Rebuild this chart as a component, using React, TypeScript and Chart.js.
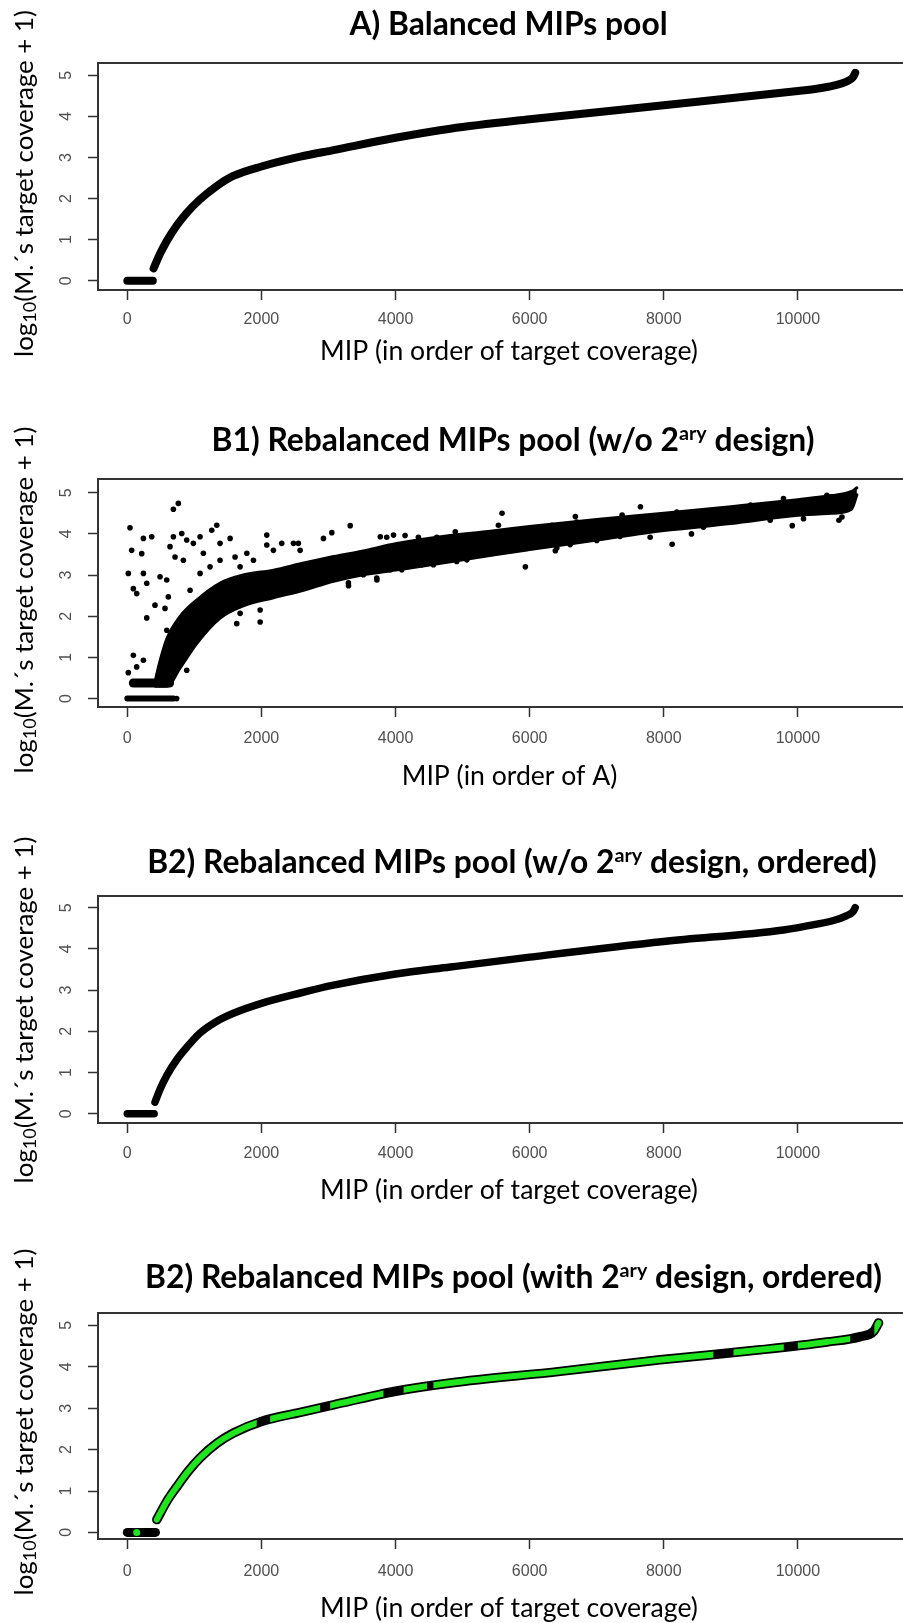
import React, { useEffect, useRef } from 'react';
import { Chart, registerables } from 'chart.js';

Chart.register(...registerables);

// ---------------- data ----------------
const X_TICKS = [0, 2000, 4000, 6000, 8000, 10000];
const Y_TICKS = [0, 1, 2, 3, 4, 5];

// A) Balanced MIPs pool (sorted curve)
const A_X = [0, 380, 392, 490, 590, 740, 890, 1085, 1330, 1580, 2000, 2580, 3075, 4000, 4816, 6000, 8000, 10000, 10300, 10530, 10730, 10820, 10855];
const A_Y = [0, 0, 0.30, 0.66, 0.97, 1.35, 1.66, 1.98, 2.30, 2.55, 2.78, 3.02, 3.18, 3.48, 3.70, 3.93, 4.27, 4.62, 4.68, 4.75, 4.85, 4.95, 5.06];

// B1) scattered pool: dense band envelope + rows + individual points
const B1_ROW0_X = [0, 690];
const B1_ROW0_Y = [0, 0];
const B1_ROW1_X = [90, 630];
const B1_ROW1_Y = [0.38, 0.38];
const B1_BAND_X = [420, 470, 590, 790, 1040, 1380, 1730, 2180, 2600, 3075, 3500, 4000, 4816, 5500, 6000, 7000, 8000, 9000, 10000, 10500, 10800, 10880];
const B1_BAND_UP = [0.45, 0.8, 1.45, 2.0, 2.4, 2.8, 3.0, 3.12, 3.28, 3.45, 3.58, 3.76, 3.96, 4.08, 4.18, 4.35, 4.5, 4.66, 4.83, 4.93, 5.03, 5.12];
const B1_BAND_LO = [0.3, 0.3, 0.3, 0.75, 1.35, 1.95, 2.25, 2.45, 2.62, 2.85, 3.0, 3.12, 3.32, 3.5, 3.62, 3.85, 4.08, 4.25, 4.45, 4.5, 4.6, 4.95];
const B1_PTS_X = [
  40, 65, 15, 90, 140, 15, 90, 240, 140, 240, 215, 240, 290, 364, 290, 413, 562, 488, 588, 612,
  588, 687, 761, 637, 687, 712, 812, 836, 886, 985, 1085, 1134, 936, 1085, 1234, 1259, 1334, 1383, 1533, 1383,
  1607, 1682, 1782, 1881, 2080, 2080, 2179, 2303, 2478, 2551, 2577, 2925, 3050, 3324, 3722, 3299, 1632, 1981, 1682, 1981,
  736, 886, 3772, 3970, 4891, 5588, 5936, 6383, 6682, 7379, 7652, 8125, 8413, 9294, 9916, 10612,
  3869, 4142, 4341, 4615, 5161, 5310, 5534, 5734, 6156, 6331, 6604, 6703, 6952, 7151, 7350, 7797, 8195, 9785, 10432,
  3297, 3521, 3720, 3919, 4093, 4391, 4565, 4913, 5063, 5510, 6405, 6604, 7350, 7001, 7797, 8592, 9587, 10084, 10657,
];
const B1_PTS_Y = [
  4.15, 3.6, 3.04, 2.67, 2.55, 0.63, 1.05, 0.93, 0.77, 3.89, 3.52, 3.04, 2.8, 3.93, 1.96, 2.27, 2.19, 2.96, 2.88, 2.47,
  1.66, 4.6, 4.74, 3.69, 3.93, 3.44, 4.01, 3.36, 3.85, 3.77, 3.93, 3.53, 2.63, 3.04, 3.2, 4.09, 4.21, 3.77, 3.89, 3.36,
  3.44, 3.2, 3.53, 3.36, 3.97, 3.73, 3.6, 3.77, 3.77, 3.77, 3.6, 3.89, 4.03, 4.2, 2.88, 2.74, 1.82, 1.86, 2.07, 2.15,
  0, 0.69, 3.93, 3.97, 4.05, 4.5, 3.2, 3.59, 4.42, 4.46, 4.66, 3.75, 4.0, 4.7, 4.2, 4.33,
  3.92, 3.96, 3.92, 3.92, 3.96, 4.0, 4.21, 4.08, 4.16, 4.21, 4.21, 4.29, 4.21, 4.21, 4.37, 4.41, 4.53, 4.86, 4.94,
  2.81, 3.01, 2.93, 3.13, 3.13, 3.25, 3.25, 3.33, 3.37, 3.58, 3.66, 3.74, 3.94, 3.84, 3.92, 4.16, 4.33, 4.37, 4.41,
];

// B2) ordered, without secondary design
const C_X = [0, 400, 413, 490, 590, 737, 890, 1085, 1330, 1582, 2000, 2580, 3075, 4000, 4816, 6000, 8000, 9784, 10282, 10531, 10730, 10820, 10855];
const C_Y = [0, 0, 0.28, 0.60, 0.93, 1.31, 1.62, 1.96, 2.24, 2.44, 2.68, 2.93, 3.12, 3.39, 3.56, 3.80, 4.18, 4.46, 4.60, 4.69, 4.81, 4.90, 5.00];

// B2) ordered, with secondary design (green = secondary-design MIPs)
const D_X = [0, 420, 440, 600, 737, 900, 1085, 1334, 1582, 2000, 2580, 3075, 4000, 4816, 6454, 7946, 9438, 10432, 10933, 11132, 11203];
const D_Y = [0, 0, 0.31, 0.78, 1.1, 1.46, 1.8, 2.15, 2.4, 2.68, 2.9, 3.08, 3.41, 3.61, 3.89, 4.17, 4.41, 4.6, 4.73, 4.86, 5.06];
const D_BLACK_RANGES = [[1930, 2130], [2875, 3025], [3820, 4120], [4470, 4565], [8740, 9040], [9790, 10000], [10780, 11140]];
const D_GREEN_DOT_X = [140];
const D_GREEN_DOT_Y = [0];

// ---------------- style / layout ----------------
const CANVAS_W = 932;
const X_MIN = -437;
const X_MAX = 12000;
const Y_AXIS_W = 98;
const X_AXIS_H = 40;
const AXIS_COLOR = '#333333';
const TICK_COLOR = '#505050';
const TICK_FAMILY = "'Liberation Sans', Arial, sans-serif";
const TICK_SIZE = 16;
const TEXT_FAMILY = "Lato, 'Open Sans', sans-serif";
const GREEN = '#1fe51f';
const Y_TICK_LABEL_X = 67;
const Y_TITLE_X = 33;

type Run = { t: string; k?: 'sup' | 'sub' };

const TITLE_A: Run[] = [{ t: 'A) Balanced MIPs pool' }];
const TITLE_B1: Run[] = [{ t: 'B1) Rebalanced MIPs pool (w/o 2' }, { t: 'ary', k: 'sup' }, { t: ' design)' }];
const TITLE_C: Run[] = [{ t: 'B2) Rebalanced MIPs pool (w/o 2' }, { t: 'ary', k: 'sup' }, { t: ' design, ordered)' }];
const TITLE_D: Run[] = [{ t: 'B2) Rebalanced MIPs pool (with 2' }, { t: 'ary', k: 'sup' }, { t: ' design, ordered)' }];
const X_TITLE_COV: Run[] = [{ t: 'MIP (in order of target coverage)' }];
const X_TITLE_A: Run[] = [{ t: 'MIP (in order of A)' }];
const Y_TITLE: Run[] = [{ t: 'log' }, { t: '10', k: 'sub' }, { t: '(M.\u00B4s target coverage + 1)' }];

const TITLE_REF_W = 737;
const XTITLE_REF_W = 378;
const YTITLE_REF_W = 347;

const pts = (xs: number[], ys: number[]) => xs.map((x, i) => ({ x, y: ys[i] }));
// zero-coverage MIPs (flat row) and the rising part, drawn as separate runs
const flatPart = (xs: number[], ys: number[]) => pts(xs, ys).filter((p) => p.y === 0);
const risePart = (xs: number[], ys: number[]) => pts(xs, ys).filter((p) => p.y > 0);

function runFont(k: any, size: number, weight: string) {
  const s = k === 'sup' ? size * 0.62 : k === 'sub' ? size * 0.7 : size;
  return `${weight} ${s}px ${TEXT_FAMILY}`;
}
function measureRuns(ctx: any, runs: Run[], size: number, weight: string) {
  let w = 0;
  for (const r of runs) {
    ctx.font = runFont(r.k, size, weight);
    w += ctx.measureText(r.t).width;
  }
  return w;
}
function drawRuns(ctx: any, runs: Run[], x0: number, y0: number, size: number, weight: string) {
  let x = x0;
  for (const r of runs) {
    ctx.font = runFont(r.k, size, weight);
    const dy = r.k === 'sup' ? -size * 0.34 : r.k === 'sub' ? size * 0.12 : 0;
    ctx.fillText(r.t, x, y0 + dy);
    x += ctx.measureText(r.t).width;
  }
}
function fitSize(ctx: any, runs: Run[], weight: string, target: number) {
  const base = 20;
  return (base * target) / measureRuns(ctx, runs, base, weight);
}

type PanelCfg = {
  key: string;
  top: number;
  height: number;
  plotTop: number;
  plotBottom: number;
  yMin: number;
  yMax: number;
  title: Run[];
  titleCX: number;
  titleBase: number;
  xTitle: Run[];
  xTitleCX: number;
  xTitleBase: number;
  yTitleC: number;
  tickOffset: number;
  datasets: any[];
  blackRanges?: number[][];
};

const lineDs = (data: any[], color: string, width: number, extra: any = {}) => ({
  data,
  showLine: true,
  borderColor: color,
  backgroundColor: color,
  borderWidth: width,
  pointRadius: 0,
  pointHoverRadius: 0,
  borderCapStyle: 'round',
  borderJoinStyle: 'round',
  cubicInterpolationMode: 'monotone',
  fill: false,
  ...extra,
});

const PANELS: PanelCfg[] = [
  {
    key: 'A', top: 0, height: 380, plotTop: 63, plotBottom: 290, yMin: -0.226, yMax: 5.3,
    title: TITLE_A, titleCX: 508.5, titleBase: 35,
    xTitle: X_TITLE_COV, xTitleCX: 509, xTitleBase: 359.5, yTitleC: 183.5, tickOffset: 29.7,
    datasets: [lineDs(risePart(A_X, A_Y), '#000', 8), lineDs(flatPart(A_X, A_Y), '#000', 8)],
  },
  {
    key: 'B1', top: 380, height: 420, plotTop: 479, plotBottom: 707, yMin: -0.204, yMax: 5.333,
    title: TITLE_B1, titleCX: 513, titleBase: 450.7,
    xTitle: X_TITLE_A, xTitleCX: 509.5, xTitleBase: 785, yTitleC: 600, tickOffset: 31.6,
    datasets: [
      lineDs(pts(B1_BAND_X, B1_BAND_UP), '#000', 3),
      lineDs(pts(B1_BAND_X, B1_BAND_LO), '#000', 3, { fill: '-1' }),
      lineDs(pts(B1_ROW0_X, B1_ROW0_Y), '#000', 6),
      lineDs(pts(B1_ROW1_X, B1_ROW1_Y), '#000', 9),
      {
        data: pts(B1_PTS_X, B1_PTS_Y), showLine: false, pointRadius: 2.8, pointHoverRadius: 0,
        pointBackgroundColor: '#000', pointBorderWidth: 0, backgroundColor: '#000', borderColor: '#000', fill: false,
      },
    ],
  },
  {
    key: 'C', top: 800, height: 410, plotTop: 896, plotBottom: 1123, yMin: -0.225, yMax: 5.284,
    title: TITLE_C, titleCX: 512, titleBase: 872.7,
    xTitle: X_TITLE_COV, xTitleCX: 509, xTitleBase: 1198.5, yTitleC: 1010, tickOffset: 30.8,
    datasets: [lineDs(risePart(C_X, C_Y), '#000', 7.5), lineDs(flatPart(C_X, C_Y), '#000', 7.5)],
  },
  {
    key: 'D', top: 1210, height: 413, plotTop: 1313, plotBottom: 1539, yMin: -0.159, yMax: 5.3,
    title: TITLE_D, titleCX: 513.5, titleBase: 1288.3,
    xTitle: X_TITLE_COV, xTitleCX: 509, xTitleBase: 1616.7, yTitleC: 1422, tickOffset: 32.4,
    blackRanges: D_BLACK_RANGES,
    datasets: [
      lineDs(risePart(D_X, D_Y), GREEN, 6, { order: 0 }),
      {
        data: pts(D_GREEN_DOT_X, D_GREEN_DOT_Y), showLine: false, pointRadius: 3.5, pointHoverRadius: 0,
        pointBackgroundColor: GREEN, pointBorderWidth: 0, backgroundColor: GREEN, borderColor: GREEN, fill: false, order: 0,
      },
      lineDs(risePart(D_X, D_Y), '#000', 9.5, { order: 1 }),
      lineDs(flatPart(D_X, D_Y), '#000', 9, { order: 1 }),
    ],
  },
];

function makeDecor(p: PanelCfg) {
  return {
    id: 'decor',
    beforeDatasetDraw(chart: any, args: any) {
      if (!p.blackRanges || args.index !== 0) return;
      const { ctx, chartArea: ca } = chart;
      const xs = chart.scales.x;
      ctx.save();
      ctx.beginPath();
      let start = ca.left - 20;
      for (const [a, b] of p.blackRanges) {
        const pa = xs.getPixelForValue(a);
        const pb = xs.getPixelForValue(b);
        ctx.rect(start, 0, pa - start, chart.height);
        start = pb;
      }
      ctx.rect(start, 0, ca.right + 20 - start, chart.height);
      ctx.clip();
    },
    afterDatasetDraw(chart: any, args: any) {
      if (!p.blackRanges || args.index !== 0) return;
      chart.ctx.restore();
    },
    afterDraw(chart: any) {
      const { ctx, chartArea: ca } = chart;
      const ys = chart.scales.y;
      const off = p.top;
      ctx.save();
      // top / right box edges
      ctx.strokeStyle = AXIS_COLOR;
      ctx.lineWidth = 2;
      ctx.beginPath();
      ctx.moveTo(ca.left - 1, ca.top);
      ctx.lineTo(ca.right, ca.top);
      ctx.lineTo(ca.right, ca.bottom);
      ctx.stroke();

      // y tick labels (rotated like R's default)
      ctx.fillStyle = TICK_COLOR;
      ctx.font = `${TICK_SIZE}px ${TICK_FAMILY}`;
      ctx.textAlign = 'center';
      ctx.textBaseline = 'middle';
      for (const v of Y_TICKS) {
        const py = ys.getPixelForValue(v);
        ctx.save();
        ctx.translate(Y_TICK_LABEL_X, py);
        ctx.rotate(-Math.PI / 2);
        ctx.fillText(String(v), 0, 0);
        ctx.restore();
      }

      ctx.fillStyle = '#000';
      ctx.textAlign = 'left';
      ctx.textBaseline = 'alphabetic';
      // main title
      const tSize = fitSize(ctx, TITLE_D, 'bold', TITLE_REF_W);
      const tw = measureRuns(ctx, p.title, tSize, 'bold');
      drawRuns(ctx, p.title, p.titleCX - tw / 2, p.titleBase - off, tSize, 'bold');
      // x title
      const xSize = fitSize(ctx, X_TITLE_COV, 'normal', XTITLE_REF_W);
      const xw = measureRuns(ctx, p.xTitle, xSize, 'normal');
      drawRuns(ctx, p.xTitle, p.xTitleCX - xw / 2, p.xTitleBase - off, xSize, 'normal');
      // y title
      const ySize = fitSize(ctx, Y_TITLE, 'normal', YTITLE_REF_W);
      const yw = measureRuns(ctx, Y_TITLE, ySize, 'normal');
      ctx.save();
      ctx.translate(Y_TITLE_X, p.yTitleC - off);
      ctx.rotate(-Math.PI / 2);
      drawRuns(ctx, Y_TITLE, -yw / 2, 0, ySize, 'normal');
      ctx.restore();
      ctx.restore();
    },
  };
}

function buildConfig(p: PanelCfg): any {
  const plotTop = p.plotTop - p.top;
  const plotBottom = p.plotBottom - p.top;
  const lineH = TICK_SIZE * 1.2;
  return {
    type: 'line',
    data: { datasets: p.datasets },
    options: {
      responsive: false,
      animation: false,
      devicePixelRatio: 1,
      events: [],
      layout: {
        autoPadding: false,
        padding: { left: 0, right: 0, top: plotTop, bottom: p.height - plotBottom - X_AXIS_H },
      },
      plugins: {
        legend: { display: false },
        tooltip: { enabled: false },
        title: { display: false },
      },
      scales: {
        x: {
          type: 'linear',
          position: 'bottom',
          min: X_MIN,
          max: X_MAX,
          afterBuildTicks: (s: any) => {
            s.ticks = X_TICKS.map((v) => ({ value: v }));
          },
          afterFit: (s: any) => {
            s.height = X_AXIS_H;
          },
          grid: { drawOnChartArea: false, drawTicks: true, tickLength: 10, tickColor: AXIS_COLOR, tickWidth: 1.5 },
          border: { display: true, color: AXIS_COLOR, width: 2 },
          ticks: {
            color: TICK_COLOR,
            font: { family: TICK_FAMILY, size: TICK_SIZE },
            padding: p.tickOffset - 10 - lineH / 2,
            maxRotation: 0,
            minRotation: 0,
            autoSkip: false,
            callback: (v: any) => String(v),
          },
        },
        y: {
          type: 'linear',
          position: 'left',
          min: p.yMin,
          max: p.yMax,
          afterBuildTicks: (s: any) => {
            s.ticks = Y_TICKS.map((v) => ({ value: v }));
          },
          afterFit: (s: any) => {
            s.width = Y_AXIS_W;
          },
          grid: { drawOnChartArea: false, drawTicks: true, tickLength: 10, tickColor: AXIS_COLOR, tickWidth: 1.5 },
          border: { display: true, color: AXIS_COLOR, width: 2 },
          ticks: { display: false },
        },
      },
    },
    plugins: [makeDecor(p)],
  };
}

function ChartPanel({ p }: { p: PanelCfg }) {
  const ref = useRef<HTMLCanvasElement | null>(null);
  useEffect(() => {
    if (!ref.current) return;
    const chart = new Chart(ref.current, buildConfig(p));
    return () => chart.destroy();
  }, [p]);
  return (
    <canvas
      ref={ref}
      width={CANVAS_W}
      height={p.height}
      style={{ position: 'absolute', left: 0, top: p.top, width: CANVAS_W, height: p.height, display: 'block' }}
    />
  );
}

export default function App() {
  return (
    <div
      style={{
        position: 'absolute',
        left: 0,
        top: 0,
        width: 903,
        height: 1623,
        overflow: 'hidden',
        background: '#ffffff',
      }}
    >
      {PANELS.map((p) => (
        <ChartPanel key={p.key} p={p} />
      ))}
    </div>
  );
}
